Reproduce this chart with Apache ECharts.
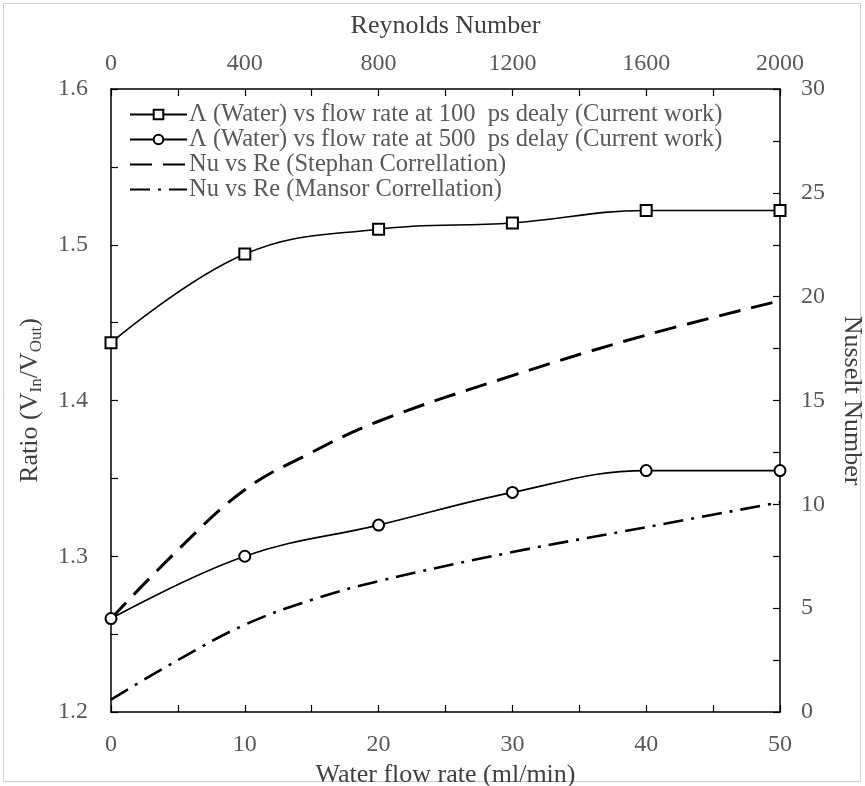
<!DOCTYPE html>
<html>
<head>
<meta charset="utf-8">
<script src="https://cdn.jsdelivr.net/npm/echarts@6/dist/echarts.min.js"></script>
<style>
html,body{margin:0;padding:0;background:#fff;overflow:hidden;}
#chart{width:865px;height:786px;}
</style>
</head>
<body>
<div id="chart"></div>
<script>
// ---- data ----
const flowRate = [0, 10, 20, 30, 40, 50];
const ratio100ps = [1.437, 1.494, 1.510, 1.514, 1.522, 1.522];
const ratio500ps = [1.260, 1.300, 1.320, 1.341, 1.355, 1.355];
const reStephan = [0, 200, 400, 600, 800, 1200, 1600, 2000];
const nuStephan = [4.5, 7.8, 10.7, 12.5, 14.0, 16.2, 18.15, 19.8];
const reMansor = [0, 200, 400, 600, 800, 1200, 1600, 2000];
const nuMansor = [0.6, 2.5, 4.2, 5.4, 6.3, 7.7, 8.9, 10.1];
const seriesNames = [
  'Λ (Water) vs flow rate at 100  ps dealy (Current work)',
  'Λ (Water) vs flow rate at 500  ps delay (Current work)',
  'Nu vs Re (Stephan Correllation)',
  'Nu vs Re (Mansor Correllation)'
];
const xTitle = 'Water flow rate (ml/min)';
const x2Title = 'Reynolds Number';
const y2Title = 'Nusselt Number';

const zip = (a, b) => a.map((v, i) => [v, b[i]]);
const FONT = 'Liberation Serif';
const TICK = '#595959';
const TITLE = '#404040';
const LINE = '#000';

const axisCommon = {
  axisLine: { show: true, onZero: false, lineStyle: { color: LINE, width: 1.5 } },
  axisTick: { show: true, inside: true, length: 7, lineStyle: { color: LINE, width: 1.2 } },
  minorTick: { show: true, splitNumber: 2, length: 7, lineStyle: { color: LINE, width: 1.2 } },
  splitLine: { show: false },
  axisLabel: { color: TICK, fontFamily: FONT, fontSize: 24 },
  nameTextStyle: { color: TITLE, fontFamily: FONT, fontSize: 26 },
  nameLocation: 'middle'
};

const chart = echarts.init(document.getElementById('chart'), null, { renderer: 'canvas' });
chart.setOption({
  animation: false,
  backgroundColor: '#fff',
  graphic: [{
    type: 'rect', shape: { x: 3.5, y: 3.5, width: 857, height: 778 },
    style: { fill: 'none', stroke: '#d0d0d0', lineWidth: 1 }, silent: true
  }],
  grid: { left: 111, right: 85, top: 89, bottom: 74, containLabel: false, outerBoundsMode: 'none' },
  legend: {
    orient: 'vertical', left: 124, top: 97, itemGap: 0,
    itemWidth: 57, itemHeight: 12,
    textStyle: { color: TICK, fontFamily: FONT, fontSize: 24.5, lineHeight: 24.5, padding: [0, 0, 0, -3] },
    data: [
      { name: seriesNames[0] },
      { name: seriesNames[1] },
      { name: seriesNames[2], itemStyle: { opacity: 0 } },
      { name: seriesNames[3], itemStyle: { opacity: 0 } }
    ]
  },
  xAxis: [
    Object.assign({}, axisCommon, {
      type: 'value', position: 'bottom', min: 0, max: 50, interval: 10,
      name: xTitle, nameGap: 37,
      axisLabel: Object.assign({}, axisCommon.axisLabel, { margin: 21 })
    }),
    Object.assign({}, axisCommon, {
      type: 'value', position: 'top', min: 0, max: 2000, interval: 400,
      name: x2Title, nameGap: 50,
      axisLabel: Object.assign({}, axisCommon.axisLabel, { margin: 13, formatter: v => String(v) })
    })
  ],
  yAxis: [
    Object.assign({}, axisCommon, {
      type: 'value', position: 'left', min: 1.2, max: 1.6, interval: 0.1,
      name: '{a|Ratio (V}{s|In}{a|/V}{s|Out}{a|)}', nameGap: 66, nameRotate: 90,
      nameTextStyle: {
        color: TITLE, fontFamily: FONT, fontSize: 26,
        rich: {
          a: { color: TITLE, fontFamily: FONT, fontSize: 26, lineHeight: 30 },
          s: { color: TITLE, fontFamily: FONT, fontSize: 17, lineHeight: 30, verticalAlign: 'bottom', padding: [12, 0, 0, 0] }
        }
      },
      axisLabel: Object.assign({}, axisCommon.axisLabel, { margin: 23, formatter: v => v.toFixed(1) })
    }),
    Object.assign({}, axisCommon, {
      type: 'value', position: 'right', min: 0, max: 30, interval: 5,
      name: y2Title, nameGap: 59, nameRotate: -90,
      axisLabel: Object.assign({}, axisCommon.axisLabel, { margin: 21 })
    })
  ],
  series: [
    {
      name: seriesNames[0], type: 'line', xAxisIndex: 0, yAxisIndex: 0,
      data: zip(flowRate, ratio100ps), smooth: 0.4,
      symbol: 'rect', symbolSize: 11,
      lineStyle: { color: LINE, width: 1.6 },
      itemStyle: { color: '#fff', borderColor: LINE, borderWidth: 2 }
    },
    {
      name: seriesNames[1], type: 'line', xAxisIndex: 0, yAxisIndex: 0,
      data: zip(flowRate, ratio500ps), smooth: 0.4,
      symbol: 'circle', symbolSize: 11,
      lineStyle: { color: LINE, width: 1.6 },
      itemStyle: { color: '#fff', borderColor: LINE, borderWidth: 2 }
    },
    {
      name: seriesNames[2], type: 'line', xAxisIndex: 1, yAxisIndex: 1,
      data: zip(reStephan, nuStephan), smooth: 0.4, showSymbol: false, symbol: 'none', symbolSize: 0,
      lineStyle: { color: LINE, width: 3, type: [22, 11] },
      itemStyle: { color: LINE }
    },
    {
      name: seriesNames[3], type: 'line', xAxisIndex: 1, yAxisIndex: 1,
      data: zip(reMansor, nuMansor), smooth: 0.4, showSymbol: false, symbol: 'none', symbolSize: 0,
      lineStyle: { color: LINE, width: 2.6, type: [20, 8, 3, 8] },
      itemStyle: { color: LINE }
    }
  ]
});
</script>
</body>
</html>
